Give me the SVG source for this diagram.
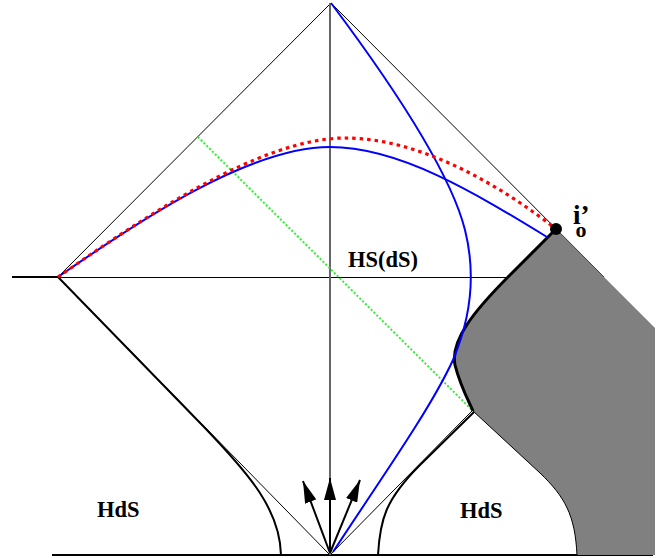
<svg xmlns="http://www.w3.org/2000/svg" width="667" height="558" viewBox="0 0 667 558">
<style>
.thin{fill:none;stroke:#000;stroke-width:1}
.thick{fill:none;stroke:#000;stroke-width:2}
.blue{fill:none;stroke:#0000ff;stroke-width:2}
.red{fill:none;stroke:#ff0000;stroke-width:3.2;stroke-dasharray:3.5 4}
.green{fill:none;stroke:#33ee33;stroke-width:2;stroke-dasharray:2 2}
.lbl{font-family:"Liberation Serif","Times New Roman",serif;font-weight:bold;fill:#000}
</style>
<defs>
<marker id="ah" viewBox="0 0 22 12" refX="22" refY="6" markerWidth="22" markerHeight="12" markerUnits="userSpaceOnUse" orient="auto">
<path d="M0,0 L22,6 L0,12 Z" fill="#000"/>
</marker>
</defs>
<rect width="667" height="558" fill="#fff"/>
<g id="frame">
<path class="thin" d="M58,277 L331,3 L604,277"/>
<path class="thin" d="M58,277.5 L520,277.5"/>
<path class="thick" d="M12,277 L58,277"/>
<path class="thin" d="M58,277 L330,555 L604,277"/>
<path class="thick" d="M58,277 L205,428 C250,475 280,510 281,555"/>
<path class="thick" d="M378,555 C380,520 385,500 420,465 L474,412"/>
<path class="thick" d="M52,555 L653,555"/>
<path fill="none" stroke="#666" stroke-width="2" d="M330,3 L330,555"/>
</g>
<g id="geodesics">
<path class="green" d="M198,137 L472,410"/>
</g>
<g id="region">
<path fill="#808080" stroke="none" d="M556,229 L510,275 C475,310 450,340 455,365 C460,385 468,400 473,411 L540,473 C565,497 575,515 577,555 L655,555 L655,328 Z"/>
<path fill="none" stroke="#000" stroke-width="3" d="M556,229 L510,275 C475,310 450,340 455,365 C460,385 468,400 473,411"/>
<path class="thin" d="M473,411 L540,473 C565,497 575,515 577,555"/>
</g>
<g id="curves">
<path class="blue" d="M331,3 C385,75 450,170 465,230 C477,278 470,320 453,360 C430,410 380,480 333,552"/>
<path class="blue" d="M58,277 C140,220 250,147 330,147 C400,147 475,193 547,237"/>
<path class="red" d="M58,277 C140,220 260,138 345,138 C420,138 500,185 556,229"/>
</g>
<g id="arrows">
<path class="thick" marker-end="url(#ah)" d="M330,553 L330,478"/>
<path class="thick" marker-end="url(#ah)" d="M330,553 L303,481"/>
<path class="thick" marker-end="url(#ah)" d="M330,553 L360,480"/>
</g>
<g id="point-io">
<circle cx="556" cy="229" r="6" fill="#000"/>
<text class="lbl" x="573" y="224" font-size="27">i’<tspan font-size="22" dx="-14" dy="13">o</tspan></text>
</g>
<g id="labels">
<text class="lbl" x="348" y="267" font-size="22.5">HS(dS)</text>
<text class="lbl" x="97" y="517" font-size="22.5">HdS</text>
<text class="lbl" x="460" y="518" font-size="22.5">HdS</text>
</g>
</svg>
